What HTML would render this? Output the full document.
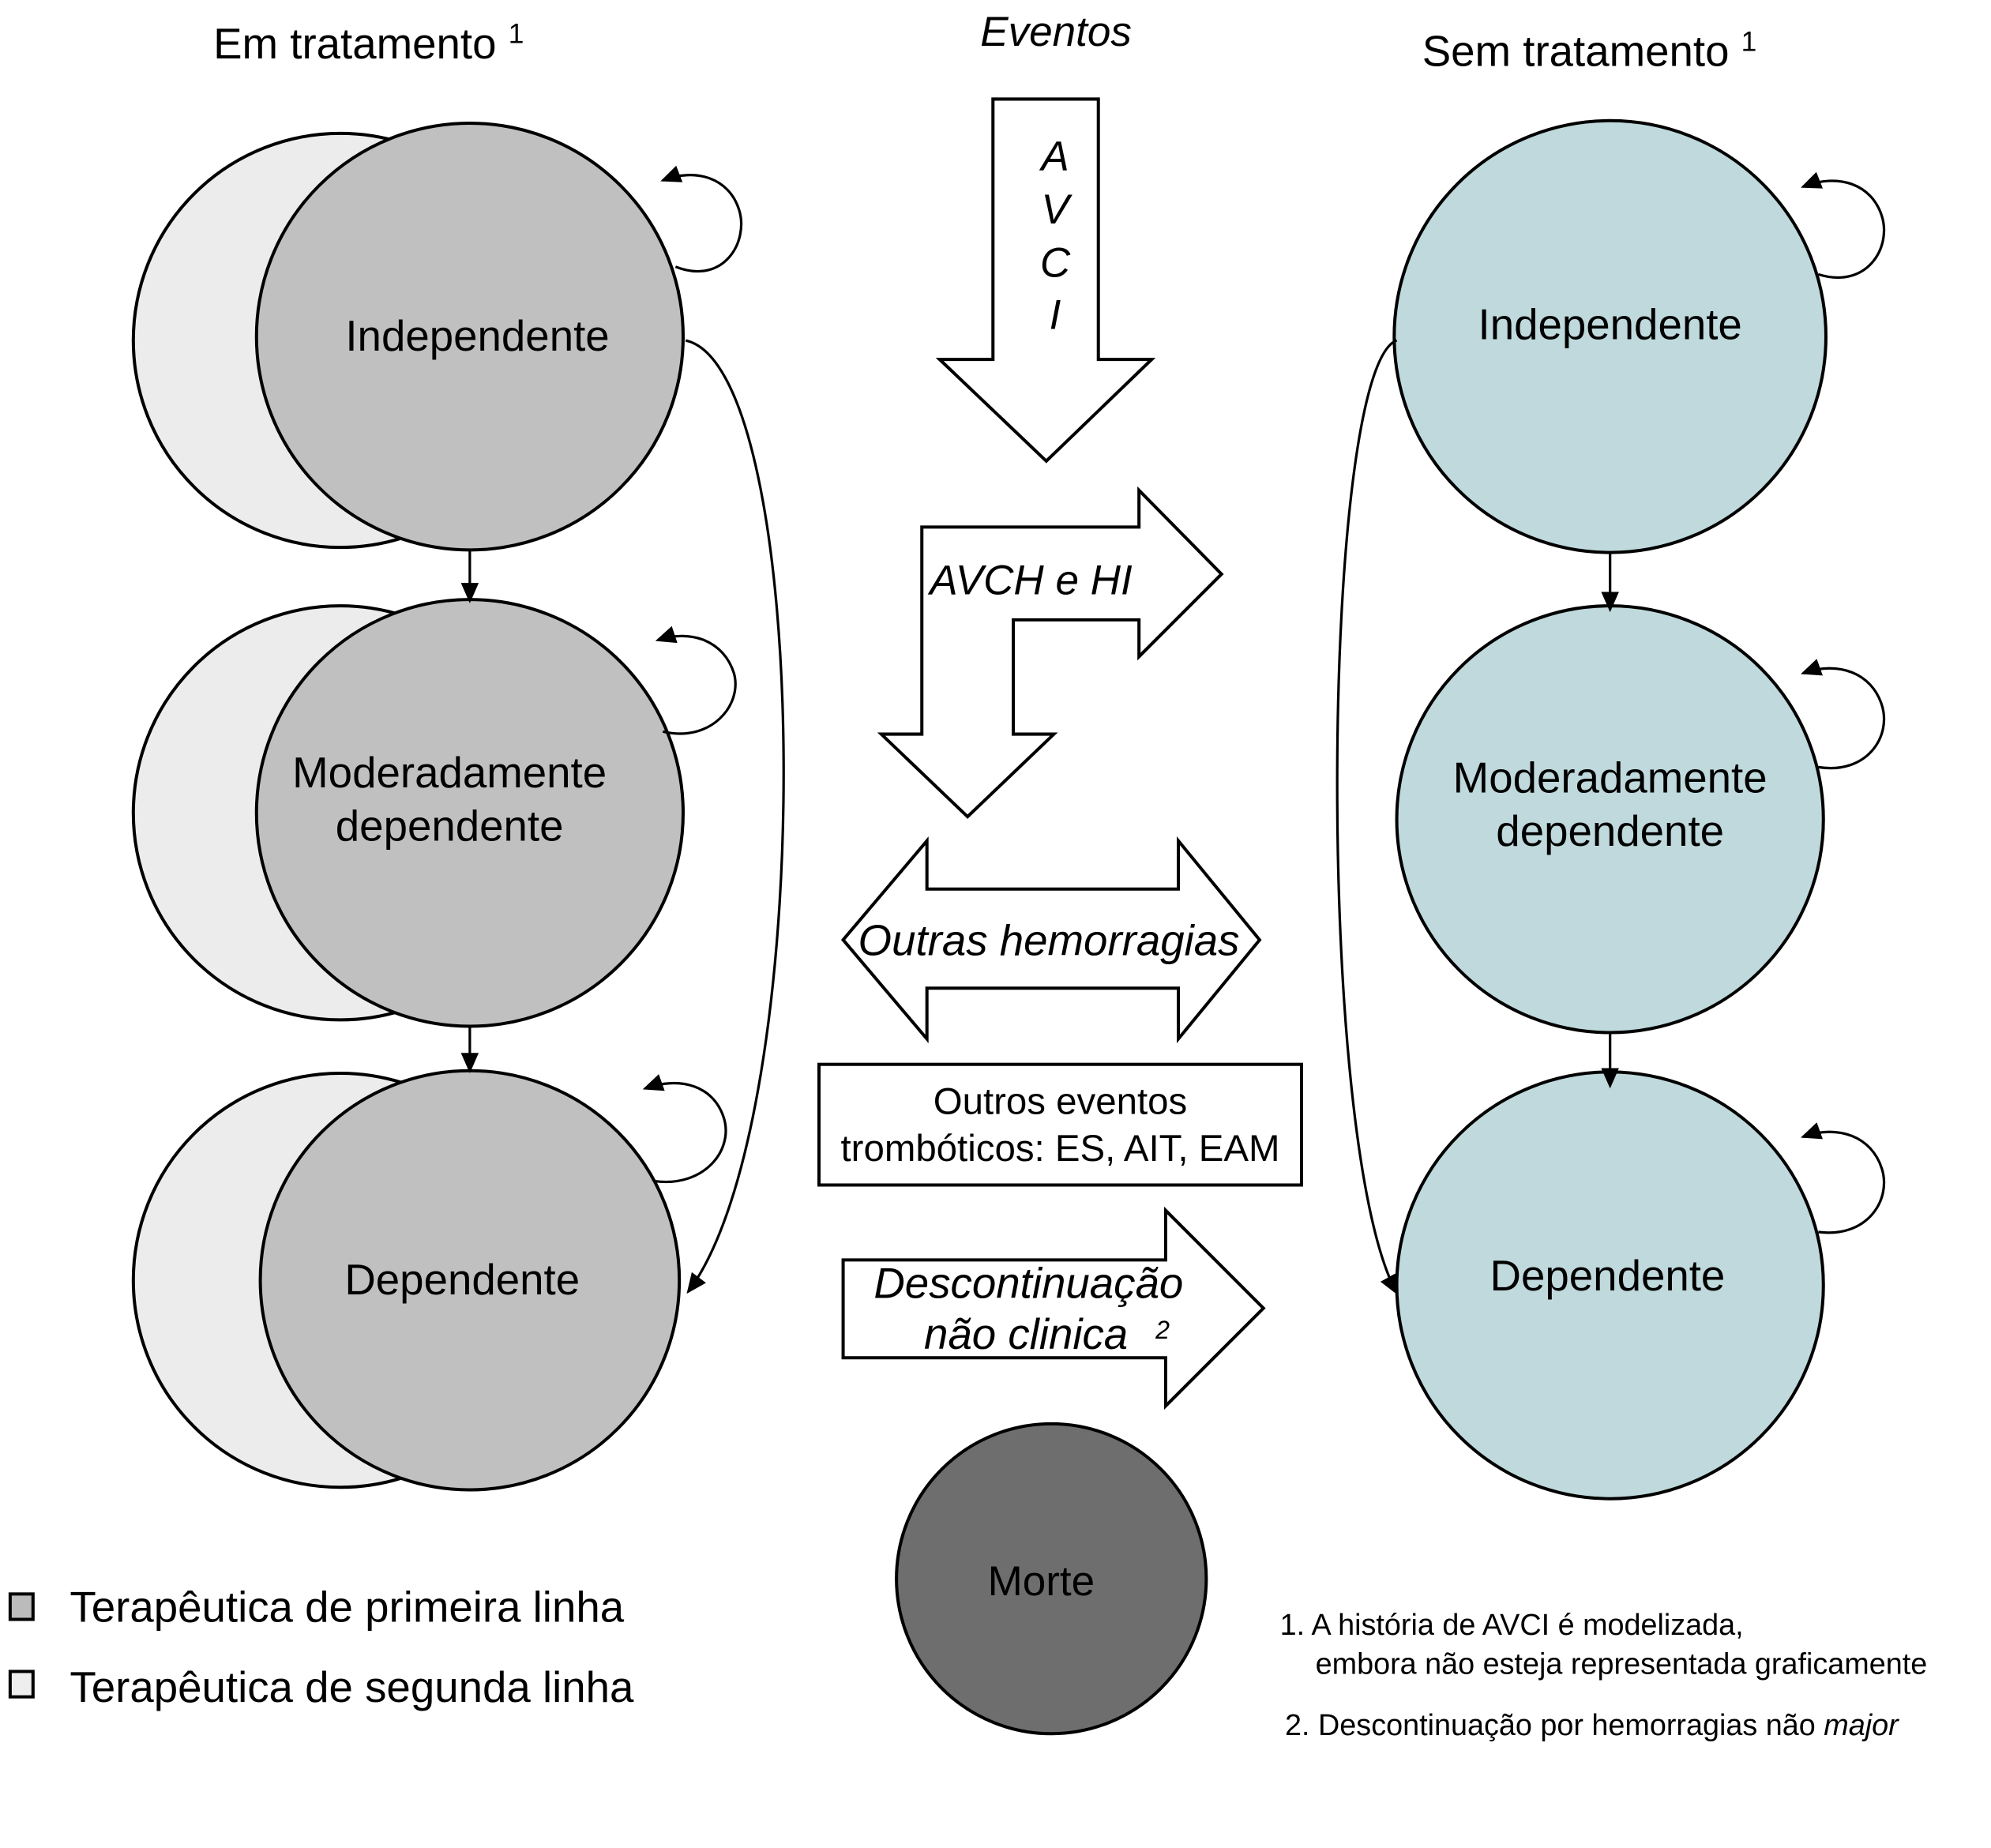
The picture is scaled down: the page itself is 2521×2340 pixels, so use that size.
<!DOCTYPE html>
<html><head><meta charset="utf-8"><style>html,body{margin:0;padding:0;background:#fff}svg{display:block}</style></head>
<body>
<svg width="2521" height="2340" viewBox="0 0 1568 1455" preserveAspectRatio="none" xmlns="http://www.w3.org/2000/svg" font-family="Liberation Sans, sans-serif">
<defs>
<marker id="ah2" markerWidth="16" markerHeight="14" refX="14" refY="7" orient="auto" markerUnits="userSpaceOnUse"><path d="M0,0 L16,7 L0,14 z" fill="#000"/></marker>
</defs>
<rect width="1568" height="1455" fill="#fff"/>
<text x="168" y="46" font-size="34">Em tratamento <tspan font-size="22" dy="-12">1</tspan></text>
<text x="772" y="36" font-size="33" font-style="italic">Eventos</text>
<text x="1120" y="52" font-size="34">Sem tratamento <tspan font-size="22" dy="-12">1</tspan></text>
<g stroke="#000" stroke-width="2.5">
<circle cx="268" cy="268" r="163" fill="#ececec"/>
<circle cx="370" cy="265" r="168" fill="#c0c0c0"/>
<circle cx="268" cy="640" r="163" fill="#ececec"/>
<circle cx="370" cy="640" r="168" fill="#c0c0c0"/>
<circle cx="268" cy="1008" r="163" fill="#ececec"/>
<circle cx="370" cy="1008" r="165" fill="#c0c0c0"/>
</g>
<g font-size="34" text-anchor="middle">
<text x="376" y="276">Independente</text>
<text x="354" y="620">Moderadamente</text>
<text x="354" y="662">dependente</text>
<text x="364" y="1019">Dependente</text>
</g>
<g stroke="#000" stroke-width="2" fill="none">
<line x1="370" y1="433" x2="370" y2="473" marker-end="url(#ah2)"/>
<line x1="370" y1="808" x2="370" y2="843" marker-end="url(#ah2)"/>
<path d="M532,210 C570,225 590,190 582,165 C574,140 548,132 522,142" marker-end="url(#ah2)"/>
<path d="M522,576 C560,585 585,555 578,530 C570,505 545,495 518,504" marker-end="url(#ah2)"/>
<path d="M516,930 C555,935 578,905 570,880 C562,855 536,847 508,857" marker-end="url(#ah2)"/>
<path d="M540,268 C640,290 645,880 542,1017" marker-end="url(#ah2)"/>
</g>
<g stroke="#000" stroke-width="2.5" fill="#bfd9dc">
<circle cx="1268" cy="265" r="170"/>
<circle cx="1268" cy="645" r="168"/>
<circle cx="1268" cy="1012" r="168"/>
</g>
<g font-size="34" text-anchor="middle">
<text x="1268" y="267">Independente</text>
<text x="1268" y="624">Moderadamente</text>
<text x="1268" y="666">dependente</text>
<text x="1266" y="1016">Dependente</text>
</g>
<g stroke="#000" stroke-width="2" fill="none">
<line x1="1268" y1="435" x2="1268" y2="480" marker-end="url(#ah2)"/>
<line x1="1268" y1="812" x2="1268" y2="855" marker-end="url(#ah2)"/>
<path d="M1432,216 C1470,228 1490,195 1482,170 C1474,145 1448,136 1420,147" marker-end="url(#ah2)"/>
<path d="M1432,604 C1470,610 1490,580 1482,555 C1474,530 1448,520 1420,530" marker-end="url(#ah2)"/>
<path d="M1432,970 C1470,975 1490,945 1482,920 C1474,895 1448,885 1420,895" marker-end="url(#ah2)"/>
<path d="M1100,268 C1040,290 1035,900 1100,1018" marker-end="url(#ah2)"/>
</g>
<g stroke="#000" stroke-width="2.5" fill="#fff">
<path d="M782,78 L865,78 L865,283 L907,283 L824,363 L740,283 L782,283 Z"/>
<path d="M726,415 L897,415 L897,386 L962,452 L897,517 L897,488 L798,488 L798,578 L830,578 L762,643 L694,578 L726,578 Z"/>
<path d="M664,740 L730,662 L730,700 L928,700 L928,662 L992,740 L928,818 L928,778 L730,778 L730,818 Z"/>
<rect x="645" y="838" width="380" height="95"/>
<path d="M664,992 L918,992 L918,953 L995,1030 L918,1107 L918,1069 L664,1069 Z"/>
</g>
<g font-size="33" font-style="italic" text-anchor="middle">
<text x="831" y="134">A</text>
<text x="831" y="176">V</text>
<text x="831" y="218">C</text>
<text x="831" y="259">I</text>
<text x="812" y="468">AVCH e HI</text>
<text x="826" y="752" font-size="34">Outras hemorragias</text>
<text x="810" y="1022" font-size="34">Descontinuação</text>
<text x="808" y="1062" font-size="34">não clinica</text>
</g>
<text x="910" y="1054" font-size="20" font-style="italic">2</text>
<g font-size="29.5" text-anchor="middle">
<text x="835" y="877">Outros eventos</text>
<text x="835" y="914">trombóticos: ES, AIT, EAM</text>
</g>
<circle cx="828" cy="1243" r="122" fill="#6e6e6e" stroke="#000" stroke-width="2.5"/>
<text x="820" y="1256" font-size="33" text-anchor="middle">Morte</text>
<rect x="8" y="1255" width="18" height="20" fill="#bbb" stroke="#000" stroke-width="2.5"/>
<rect x="8" y="1316" width="18" height="20" fill="#eee" stroke="#000" stroke-width="2.5"/>
<text x="55" y="1277" font-size="34">Terapêutica de primeira linha</text>
<text x="55" y="1340" font-size="34">Terapêutica de segunda linha</text>
<g font-size="23.5">
<text x="1008" y="1287">1. A história de AVCI é modelizada,</text>
<text x="1036" y="1318">embora não esteja representada graficamente</text>
<text x="1012" y="1366">2. Descontinuação por hemorragias não <tspan font-style="italic">major</tspan></text>
</g>
</svg>
</body></html>
